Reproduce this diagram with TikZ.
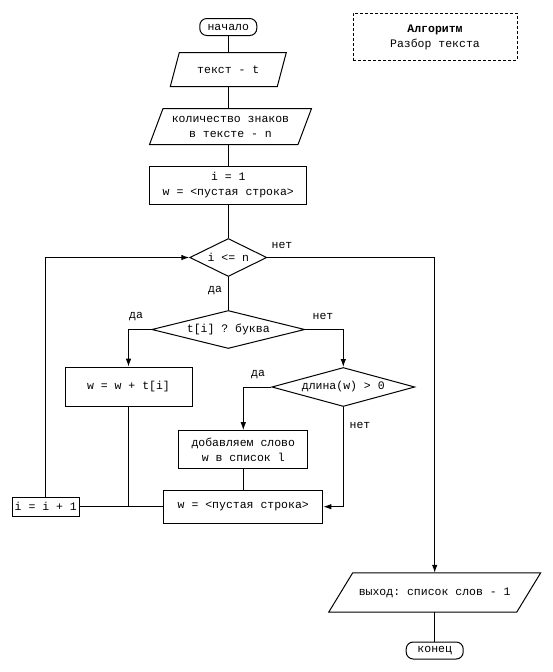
\documentclass[tikz,border=0pt]{standalone}
\usepackage{fontspec}
\setmonofont{Liberation Mono}
\usetikzlibrary{arrows.meta,shapes.geometric}
\newcommand\drawpara[2]{\draw[line width=1pt] ([xshift=#2]#1.north west) -- (#1.north east) -- ([xshift=-#2]#1.south east) -- (#1.south west) -- cycle;}
\begin{document}
\begin{tikzpicture}[x=1pt,y=-1pt,
  every node/.style={font=\ttfamily\fontsize{11.5}{15}\selectfont, inner sep=1pt, align=center},
  every path/.style={line width=1pt},
  box/.style={draw, rectangle, minimum width=#1},
  term/.style={draw, rectangle, rounded corners=7pt, minimum width=57pt, minimum height=17pt},
  dia/.style={draw, diamond, inner sep=0pt},
  parabox/.style={rectangle, draw=none},
  arr/.style={-{Latex[length=8pt,width=5.5pt]}},
  lbl/.style={inner sep=0pt}
]
\useasboundingbox (0,0) rectangle (552,672);

% title box
\node[draw, dash pattern=on 3pt off 2pt, minimum width=164pt, minimum height=47pt] (title) at (435,36.5) {};
\node[lbl] (t1) at (435,30) {\textbf{Алгоритм}};
\node[lbl] (t2) at (435,44) {Разбор текста};

% nodes
\node[term] (start) at (228.3,27) {начало};
\node[parabox, minimum width=115pt, minimum height=33pt] (in1) at (228.3,69.5) {текст - t};
\drawpara{in1}{9pt}
\node[parabox, minimum width=161pt, minimum height=35pt] (in2) at (230.5,126.5) {количество знаков\\в тексте - n};
\drawpara{in2}{13.5pt}
\node[box=157pt, minimum height=38pt] (init) at (228.3,185) {i = 1\\w = <пустая строка>};
\node[dia, minimum width=77pt, minimum height=38pt, aspect=2] (cond1) at (228.3,257.5) {i <= n};
\node[dia, minimum width=153pt, minimum height=38pt, aspect=4] (cond2) at (228.3,329.5) {t[i] ? буква};
\node[box=127pt, minimum height=39pt] (wupd) at (128.5,386.7) {w = w + t[i]};
\node[dia, minimum width=143pt, minimum height=39pt, aspect=3.7] (cond3) at (343.3,387) {длина(w) > 0};
\node[box=129pt, minimum height=37.6pt] (add) at (243.3,449.5) {добавляем слово\\w в список l};
\node[box=159pt, minimum height=33.3pt] (reset) at (243.3,506.7) {w = <пустая строка>};
\node[box=67pt, minimum height=18.7pt, inner sep=0pt] (inc) at (45.8,506.7) {i = i + 1};
\node[parabox, minimum width=211pt, minimum height=38.4pt] (out) at (434.7,592.5) {выход: список слов - 1};
\drawpara{out}{24pt}
\node[term] (stop) at (434.7,650.5) {конец};

\coordinate (jn) at (wupd.south |- reset.west);

% connectors
\draw (start.south) -- (in1.north);
\draw (in1.south) -- (in1.south |- in2.north);
\draw (in2.south -| in1.south) -- (init.north);
\draw (init.south) -- (cond1.north);
\draw (cond1.south) -- (cond2.north);
\draw[arr] (cond2.west) -| (wupd.north);
\draw[arr] (cond2.east) -| (cond3.north);
\draw[arr] (cond3.west) -| (add.north);
\draw[arr] (cond3.south) |- (reset.east);
\draw (add.south) -- (reset.north);
\draw (reset.west) -- (inc.east);
\draw (wupd.south) -- (jn);
\draw[arr] (inc.north) |- (cond1.west);
\draw[arr] (cond1.east) -| (out.north);
\draw (out.south) -- (stop.north);

% labels
\node[lbl] (l1) at (282,245) {нет};
\node[lbl] (l2) at (215,291) {да};
\node[lbl] (l3) at (136,317) {да};
\node[lbl] (l4) at (323,316) {нет};
\node[lbl] (l5) at (258,375) {да};
\node[lbl] (l6) at (360,425) {нет};
\end{tikzpicture}
\end{document}
